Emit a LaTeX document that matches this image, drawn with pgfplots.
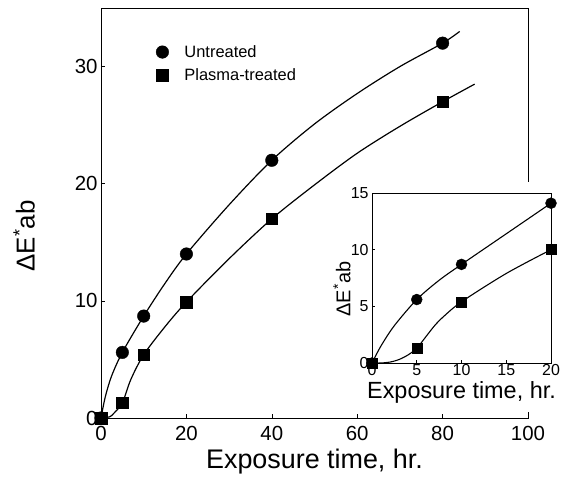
\documentclass[border=0pt]{standalone}
\usepackage{fontspec}
\setmainfont{Liberation Sans}
\usepackage{pgfplots}
\pgfplotsset{compat=1.18}
\begin{document}
\begin{tikzpicture}
\begin{axis}[
  at={(0,0)}, anchor=south west,
  scale only axis, width=427bp, height=410bp,
  xmin=0, xmax=100, ymin=0, ymax=35,
  clip=false,
  xtick={0,20,40,60,80,100}, ytick={0,10,20,30},
  tick align=inside, xtick pos=bottom, ytick pos=left,
  major tick length=4bp,
  axis line style={line width=0.8pt},
  tick style={line width=0.6pt, black},
  /pgf/number format/assume math mode=true,
  ticklabel style={font=\fontsize{20.5}{24}\selectfont},
  xticklabel style={yshift=-5bp},
  xlabel={Exposure time, hr.},
  ylabel={ΔE\textsuperscript{*}ab},
  xlabel style={font=\fontsize{27}{32}\selectfont, at={(axis description cs:0.5,-0.105)}, anchor=center},
  ylabel style={font=\fontsize{26}{30}\selectfont, at={(axis description cs:-0.18,0.444)}, anchor=center},
  legend style={draw=none, fill=none, at={(axis cs:12.3,32.0)}, anchor=north west,
    font=\fontsize{16.5}{19}\selectfont, row sep=6bp, inner sep=0pt},
  legend cell align=left,
  legend image code/.code={\path (0cm,0cm) (1.0cm,0cm); \draw[#1] plot coordinates {(0.3cm,0cm)};},
]
\addplot[black, line width=1.2pt, smooth, forget plot] coordinates {
 (0,0) (1,1.8) (2.5,3.6) (5,5.6) (10,8.7) (15,11.5) (20,14.0) (30,18.2) (40,22) (50,25.1) (60,27.7) (70,30.0) (80,32) (84,33)};
\addplot[black, line width=1.2pt, smooth, forget plot] coordinates {
 (0,0) (2,0.1) (3,0.4) (5,1.3) (7,3.3) (10,5.4) (15,7.8) (20,9.9) (30,13.6) (40,17) (50,19.9) (60,22.6) (70,24.9) (80,27) (87.5,28.5)};
\addplot[only marks, mark=*, mark size=6.3bp, black] coordinates {
 (0,0) (5,5.6) (10,8.7) (20,14.0) (40,22) (80,32)};
\addlegendentry{Untreated}
\addplot[only marks, mark=square*, mark size=5.8bp, black] coordinates {
 (0,0) (5,1.3) (10,5.4) (20,9.9) (40,17) (80,27)};
\addlegendentry{Plasma-treated}
\end{axis}
\fill[white] (229bp,6bp) rectangle (462bp,236bp);
\begin{axis}[
  at={(271bp,55bp)}, anchor=south west,
  scale only axis, width=179bp, height=170bp,
  xmin=0, xmax=20, ymin=0, ymax=15,
  clip=false,
  xtick={0,5,10,15,20}, ytick={0,5,10,15},
  tick align=inside, xtick pos=bottom, ytick pos=left,
  major tick length=3bp,
  axis line style={line width=0.7pt},
  tick style={line width=0.6pt, black},
  /pgf/number format/assume math mode=true,
  ticklabel style={font=\fontsize{16}{19}\selectfont},
  xticklabel style={yshift=2bp},
  xlabel={Exposure time, hr.},
  ylabel={ΔE\textsuperscript{*}ab},
  xlabel style={font=\fontsize{23.5}{27}\selectfont, at={(axis description cs:0.5,-0.171)}, anchor=center},
  ylabel style={font=\fontsize{20}{24}\selectfont, at={(axis description cs:-0.168,0.435)}, anchor=center},
]
\addplot[black, line width=1.1pt, smooth] coordinates {
 (0,0) (1,1.5) (2.5,3.3) (5,5.6) (7.5,7.3) (10,8.7) (15,11.4) (20,14.1)};
\addplot[black, line width=1.1pt, smooth] coordinates {
 (0,0) (1,0) (2,0.08) (3,0.3) (4,0.7) (5,1.3) (6,2.3) (7,3.3) (8,4.1) (10,5.4) (15,7.9) (20,10.0)};
\addplot[only marks, mark=*, mark size=5.5bp, black] coordinates {
 (0,0) (5,5.6) (10,8.7) (20,14.1)};
\addplot[only marks, mark=square*, mark size=5bp, black] coordinates {
 (0,0) (5,1.3) (10,5.4) (20,10.0)};
\end{axis}
\pgfresetboundingbox
\path (-101bp,-70bp) rectangle (460bp,418bp);
\end{tikzpicture}
\end{document}
